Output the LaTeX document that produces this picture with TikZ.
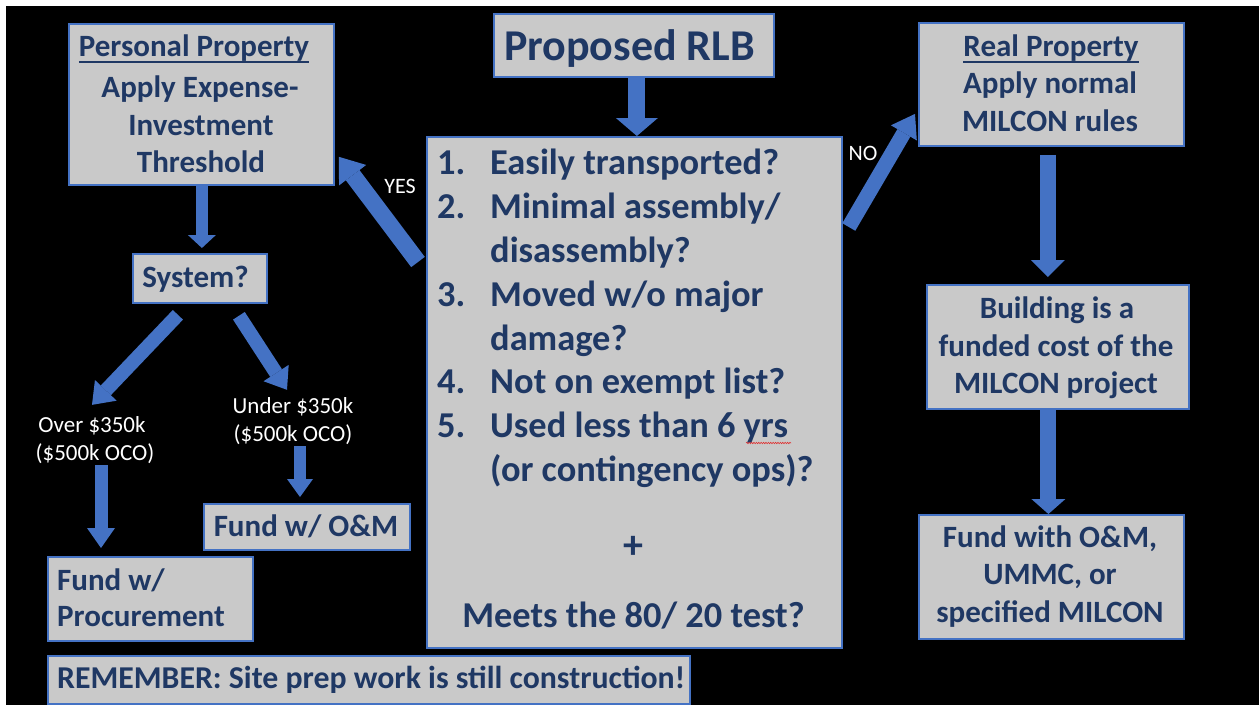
\documentclass[tikz,border=0pt]{standalone}
\usepackage{fontspec}
\setmainfont{Carlito}
\usetikzlibrary{arrows.meta,decorations.pathmorphing}
\definecolor{boxfill}{HTML}{C9C9C9}
\definecolor{edgeblue}{HTML}{4472C4}
\definecolor{navy}{HTML}{1F3864}
\definecolor{squiggle}{HTML}{E03030}
% underline drawn as a rule just below the descenders
\newcommand\ulword[1]{\setbox0\hbox{#1}\rlap{\rule[-6.5pt]{\wd0}{2pt}}\box0}
\tikzset{
  box/.style={draw=edgeblue, line width=1.8pt, fill=boxfill, inner sep=0pt, anchor=north west},
  txt/.style={text=navy, anchor=base, inner sep=0pt, font=\bfseries\fontsize{31}{37}\selectfont},
  bigtxt/.style={txt, font=\bfseries\fontsize{44}{53}\selectfont},
  listtxt/.style={txt, anchor=base west, font=\bfseries\fontsize{36.4}{44}\selectfont},
  lbl/.style={text=white, anchor=base, inner sep=0pt, font=\fontsize{23}{28}\selectfont},
  barrow/.style n args={3}{draw=edgeblue, line width=#1,
    -{Triangle[width=#2,length=#3,line width=0pt]}},
}
\begin{document}
\begin{tikzpicture}[x=1pt,y=-1pt]
  % page and dark backdrop
  \useasboundingbox[fill=white] (0,0) rectangle (1259,707);
  \fill[black] (6,6) rectangle (1259,705);

  % boxes
  \node[box, minimum width=280pt, minimum height=63pt]  (rlb)  at (493,13)  {};
  \node[box, minimum width=415pt, minimum height=511pt] (main) at (426,136) {};
  \node[box, minimum width=265pt, minimum height=161pt] (pp)   at (68,23)   {};
  \node[box, minimum width=265pt, minimum height=123pt] (rp)   at (918,22)  {};
  \node[box, minimum width=134pt, minimum height=49pt]  (sys)  at (132,253) {};
  \node[box, minimum width=262pt, minimum height=124pt] (bld)  at (926,284) {};
  \node[box, minimum width=265pt, minimum height=124pt] (fom)  at (918,514) {};
  \node[box, minimum width=206pt, minimum height=46pt]  (fo)   at (203,503) {};
  \node[box, minimum width=205pt, minimum height=84pt]  (proc) at (47,556)  {};
  \node[box, minimum width=642pt, minimum height=48pt]  (rem)  at (47,655)  {};

  % box texts
  \node[bigtxt] (rlbT) at (629.5,60) {Proposed RLB};

  \node[txt] (ppT1) at (194,56)  {\ulword{Personal Property}};
  \node[txt] (ppT2) at (200,97)  {Apply Expense-};
  \node[txt] (ppT3) at (201,135) {Investment};
  \node[txt] (ppT4) at (201,172) {Threshold};

  \node[txt] (rpT1) at (1051,56)  {\ulword{Real Property}};
  \node[txt] (rpT2) at (1050,93)  {Apply normal};
  \node[txt] (rpT3) at (1050,131) {MILCON rules};

  \node[txt] (sysT) at (195.5,287) {System?};

  \node[txt] (bldT1) at (1057,318) {Building is a};
  \node[txt] (bldT2) at (1056,356) {funded cost of the};
  \node[txt] (bldT3) at (1056,393) {MILCON project};

  \node[txt] (fomT1) at (1050,547) {Fund with O\&M,};
  \node[txt] (fomT2) at (1050,584) {UMMC, or};
  \node[txt] (fomT3) at (1050,622) {specified MILCON};

  \node[txt] (foT) at (306,536) {Fund w/ O\&M};

  \node[txt, anchor=base west] (procT1) at (57,590) {Fund w/};
  \node[txt, anchor=base west] (procT2) at (57,626) {Procurement};

  \node[txt, anchor=base west, font=\bfseries\fontsize{31.8}{37}\selectfont]
    (remT) at (57,688) {REMEMBER: Site prep work is still construction!};

  % criteria list
  \node[listtxt] (n1) at (437,174)   {1.};
  \node[listtxt] (c1) at (490,174)   {Easily transported?};
  \node[listtxt] (n2) at (437,218)   {2.};
  \node[listtxt] (c2) at (490,218)   {Minimal assembly/};
  \node[listtxt] (c2b) at (490,262)  {disassembly?};
  \node[listtxt] (n3) at (437,306)   {3.};
  \node[listtxt] (c3) at (490,306)   {Moved w/o major};
  \node[listtxt] (c3b) at (490,350)  {damage?};
  \node[listtxt] (n4) at (437,393.5) {4.};
  \node[listtxt] (c4) at (490,393.5) {Not on exempt list?};
  \node[listtxt] (n5) at (437,437.4) {5.};
  \node[listtxt] (c5) at (490,437.4) {Used less than 6 yrs};
  \node[listtxt] (c5b) at (490,481)  {(or contingency ops)?};
  \node[listtxt, anchor=center, font=\bfseries\fontsize{40}{44}\selectfont] (plus) at (633.5,547) {+};
  \node[listtxt, anchor=base] (meets) at (633.5,627) {Meets the 80/ 20 test?};
  % spelling squiggle under "yrs"
  \draw[squiggle, line width=0.6pt, decorate,
        decoration={snake, amplitude=0.7pt, segment length=2.4pt}]
        (746,443) -- (791,443);

  % white labels
  \node[lbl, font=\fontsize{22}{26}\selectfont] (yes) at (400,193) {YES};
  \node[lbl, font=\fontsize{22}{26}\selectfont] (no)  at (863,160) {NO};
  \node[lbl] (overA)  at (92,432)  {Over \$350k};
  \node[lbl] (overB)  at (95,460)  {(\$500k OCO)};
  \node[lbl] (underA) at (293,413) {Under \$350k};
  \node[lbl] (underB) at (293,441) {(\$500k OCO)};

  % block arrows
  \draw[barrow={17pt}{42pt}{18pt}] ([xshift=3pt]rlb.south) -- ([xshift=3pt]rlb.south |- main.north);
  \draw[barrow={17pt}{34pt}{23pt}] ([shift={(-8pt,-126pt)}]main.north west) -- ([shift={(4pt,29pt)}]pp.south east);
  \draw[barrow={15pt}{30pt}{22pt}] ([shift={(6pt,-91pt)}]main.north east) -- ([shift={(-3pt,-29.5pt)}]rp.west);
  \draw[barrow={12pt}{28pt}{13pt}, shorten >=5pt] ([xshift=0.5pt]pp.south) -- ([xshift=0.5pt]pp.south |- sys.north);
  \draw[barrow={16pt}{34pt}{17pt}, shorten <=8pt, shorten >=7pt] ([xshift=-3.5pt]rp.south) -- ([xshift=-3.5pt]rp.south |- bld.north);
  \draw[barrow={16pt}{34pt}{15pt}] ([xshift=-9.5pt]bld.south) -- ([xshift=-9.5pt]bld.south |- fom.north);
  \draw[barrow={14pt}{30pt}{20pt}] ([shift={(-22pt,-11pt)}]sys.south) -- ([shift={(0pt,11pt)}]overA.north);
  \draw[barrow={14pt}{30pt}{20pt}] ([shift={(39pt,-12pt)}]sys.south) -- ([shift={(-6pt,7pt)}]underA.north);
  \draw[barrow={13pt}{28pt}{20pt}, shorten >=8pt] ([shift={(6pt,-2pt)}]overB.south) -- ([xshift=6pt]overB.south |- proc.north);
  \draw[barrow={12pt}{26pt}{18pt}, shorten >=6pt] ([shift={(7pt,-2pt)}]underB.south) -- ([xshift=7pt]underB.south |- fo.north);
\end{tikzpicture}
\end{document}
